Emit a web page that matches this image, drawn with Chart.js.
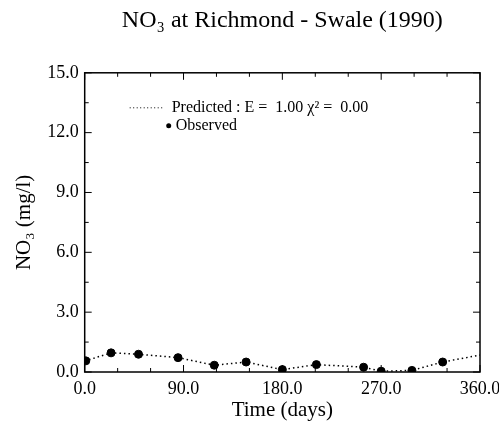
<!DOCTYPE html>
<html lang="en">
<head>
<meta charset="UTF-8">
<title>NO3 at Richmond - Swale (1990)</title>
<script src="https://cdn.jsdelivr.net/npm/chart.js/dist/chart.umd.min.js"></script>
<style>
  body { margin: 0; background: #fff; }
  #wrap { width: 499px; height: 427px; }
</style>
</head>
<body>
<div id="wrap"><canvas id="myChart"></canvas></div>
<script>
// observed samples (day, mg/l)
const obsDays   = [1, 24, 49, 85, 118, 147, 180, 211, 254, 270, 298, 326];
const obsValues = [0.56, 0.96, 0.89, 0.72, 0.34, 0.50, 0.12, 0.37, 0.24, 0.04, 0.08, 0.50];
// predicted curve
const predDays   = [0, 24, 49, 85, 118, 147, 180, 211, 254, 270, 298, 326, 360];
const predValues = [0.55, 0.96, 0.89, 0.72, 0.34, 0.50, 0.12, 0.37, 0.24, 0.04, 0.08, 0.50, 0.85];
const xTicks = [0, 90, 180, 270, 360];
const yTicks = [0, 3, 6, 9, 12, 15];

const serif = "'Liberation Serif', 'Times New Roman', serif";

// frame + inward ticks + legend
const framePlugin = {
    id: 'frame',
    afterDraw(chart) {
        const ctx = chart.ctx;
        const a = chart.chartArea;
        const xs = chart.scales.x, ys = chart.scales.y;
        ctx.save();
        ctx.strokeStyle = '#000';
        ctx.lineWidth = 1.5;
        ctx.strokeRect(a.left, a.top, a.right - a.left, a.bottom - a.top);
        ctx.lineWidth = 1;
        ctx.beginPath();
        for (let d = 0; d <= 360; d += 30) {
            const px = xs.getPixelForValue(d);
            const len = d % 90 === 0 ? 7 : 4;
            ctx.moveTo(px, a.bottom); ctx.lineTo(px, a.bottom - len);
            ctx.moveTo(px, a.top); ctx.lineTo(px, a.top + len);
        }
        for (let v = 0; v <= 15; v += 1.5) {
            const py = ys.getPixelForValue(v);
            const len = v % 3 === 0 ? 7 : 4;
            ctx.moveTo(a.left, py); ctx.lineTo(a.left + len, py);
            ctx.moveTo(a.right, py); ctx.lineTo(a.right - len, py);
        }
        ctx.stroke();

        // legend
        const lx = a.left + 45, ly = a.top + 35;
        ctx.setLineDash([1, 2.5]);
        ctx.beginPath();
        ctx.moveTo(lx, ly); ctx.lineTo(lx + 35, ly);
        ctx.stroke();
        ctx.setLineDash([]);
        ctx.fillStyle = '#000';
        ctx.font = '16px ' + serif;
        ctx.textBaseline = 'middle';
        ctx.fillText('Predicted : E =  1.00 \u03C7\u00B2 =  0.00', lx + 42, ly);
        ctx.beginPath();
        ctx.arc(lx + 39, ly + 18, 2.5, 0, Math.PI * 2);
        ctx.fill();
        ctx.fillText('Observed', lx + 46, ly + 18);
        ctx.restore();
    }
};

const obsData = obsDays.map((d, i) => ({ x: d, y: obsValues[i] }));
const predData = predDays.map((d, i) => ({ x: d, y: predValues[i] }));

new Chart(document.getElementById('myChart'), {
    type: 'scatter',
    data: {
        datasets: [{
            label: 'Predicted',
            data: predData,
            showLine: true,
            borderColor: '#000',
            borderWidth: 1.5,
            borderDash: [1.5, 3],
            pointRadius: 0,
            tension: 0
        }, {
            label: 'Observed',
            data: obsData,
            backgroundColor: '#000',
            borderColor: '#000',
            pointRadius: 4
        }]
    },
    options: {
        responsive: true,
        maintainAspectRatio: false,
        animation: false,
        layout: { padding: { top: 6, right: 0, bottom: 3, left: 12 } },
        plugins: {
            legend: { display: false },
            tooltip: { enabled: false },
            title: {
                display: true,
                fullSize: false,
                text: 'NO\u2083 at Richmond - Swale (1990)',
                color: '#000',
                font: { family: serif, size: 24, weight: 'normal' },
                padding: { top: 0, bottom: 38 }
            }
        },
        scales: {
            x: {
                type: 'linear',
                min: 0, max: 360,
                afterBuildTicks: s => { s.ticks = xTicks.map(v => ({ value: v })); },
                afterFit: s => { s.paddingRight = 19; },
                ticks: {
                    color: '#000',
                    font: { family: serif, size: 18, lineHeight: 1 },
                    padding: 8,
                    maxRotation: 0,
                    callback: v => v.toFixed(1)
                },
                grid: { display: false, drawTicks: false },
                border: { display: false },
                title: {
                    display: true,
                    text: 'Time (days)',
                    color: '#000',
                    font: { family: serif, size: 21, lineHeight: 1 },
                    padding: { top: -6, bottom: 3 }
                }
            },
            y: {
                type: 'linear',
                min: 0, max: 15,
                afterBuildTicks: s => { s.ticks = yTicks.map(v => ({ value: v })); },
                ticks: {
                    color: '#000',
                    font: { family: serif, size: 18 },
                    padding: 6,
                    callback: v => v.toFixed(1)
                },
                grid: { display: false, drawTicks: false },
                border: { display: false },
                title: {
                    display: true,
                    text: 'NO\u2083 (mg/l)',
                    color: '#000',
                    font: { family: serif, size: 21 },
                    padding: { top: 0, bottom: 4 }
                }
            }
        }
    },
    plugins: [framePlugin]
});
</script>
</body>
</html>
